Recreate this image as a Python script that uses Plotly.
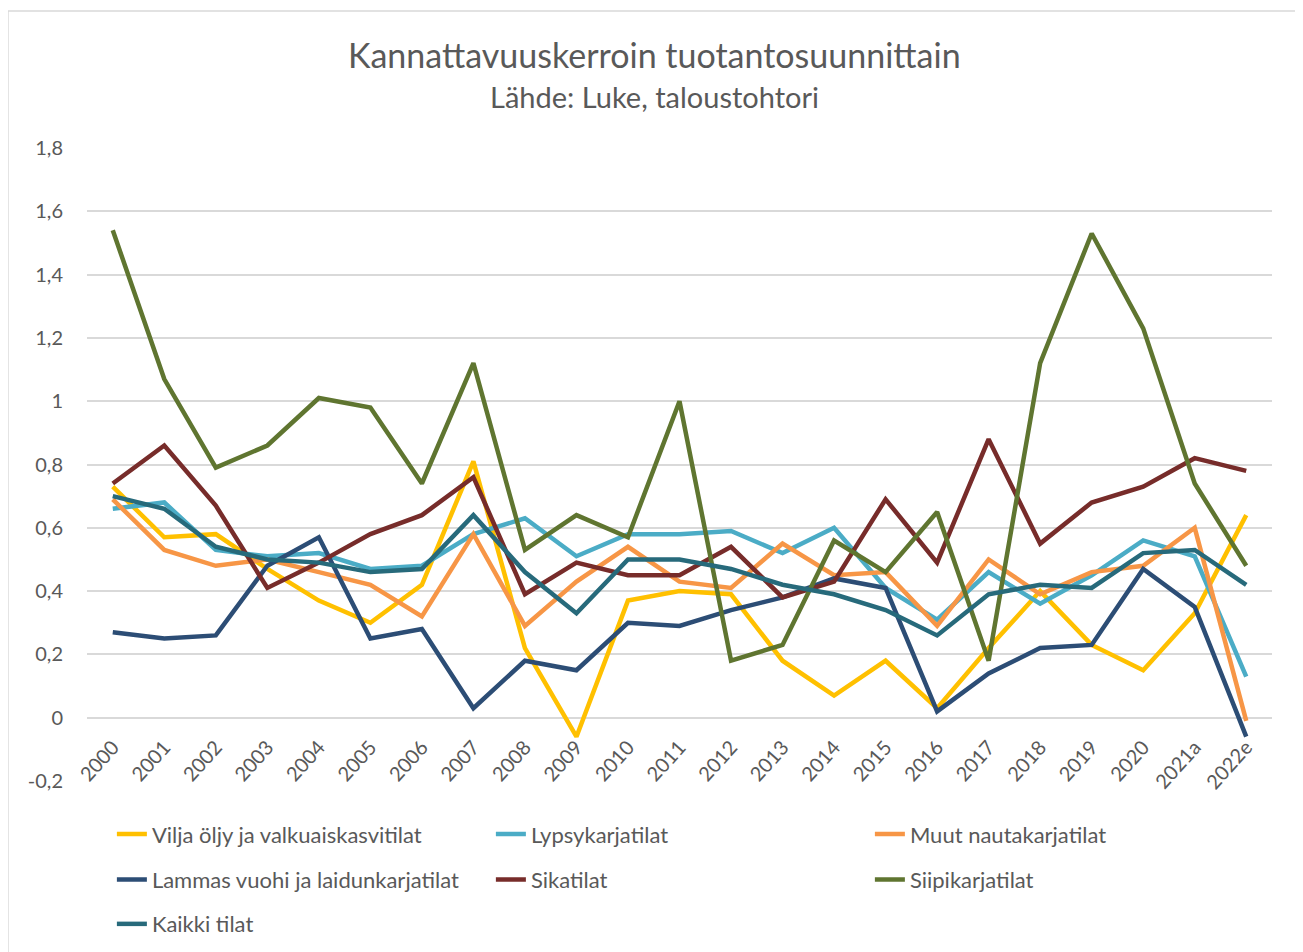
import plotly.graph_objects as go

# vuodet
vuodet = [str(v) for v in range(2000, 2021)] + ['2021a', '2022e']

vilja = [0.73, 0.57, 0.58, 0.47, 0.37, 0.30, 0.42, 0.81, 0.22, -0.06, 0.37, 0.40, 0.39,
         0.18, 0.07, 0.18, 0.03, 0.22, 0.40, 0.23, 0.15, 0.33, 0.64]
lypsy = [0.66, 0.68, 0.53, 0.51, 0.52, 0.47, 0.48, 0.58, 0.63, 0.51, 0.58, 0.58, 0.59,
         0.52, 0.60, 0.41, 0.31, 0.46, 0.36, 0.45, 0.56, 0.51, 0.13]
muut_nauta = [0.69, 0.53, 0.48, 0.50, 0.46, 0.42, 0.32, 0.58, 0.29, 0.43, 0.54, 0.43, 0.41,
              0.55, 0.45, 0.46, 0.29, 0.50, 0.39, 0.46, 0.48, 0.60, -0.01]
lammas = [0.27, 0.25, 0.26, 0.48, 0.57, 0.25, 0.28, 0.03, 0.18, 0.15, 0.30, 0.29, 0.34,
          0.38, 0.44, 0.41, 0.02, 0.14, 0.22, 0.23, 0.47, 0.35, -0.06]
sika = [0.74, 0.86, 0.67, 0.41, 0.49, 0.58, 0.64, 0.76, 0.39, 0.49, 0.45, 0.45, 0.54,
        0.38, 0.43, 0.69, 0.49, 0.88, 0.55, 0.68, 0.73, 0.82, 0.78]
siipi = [1.54, 1.07, 0.79, 0.86, 1.01, 0.98, 0.74, 1.12, 0.53, 0.64, 0.57, 1.00, 0.18,
         0.23, 0.56, 0.46, 0.65, 0.18, 1.12, 1.53, 1.23, 0.74, 0.48]
kaikki = [0.70, 0.66, 0.54, 0.50, 0.49, 0.46, 0.47, 0.64, 0.46, 0.33, 0.50, 0.50, 0.47,
          0.42, 0.39, 0.34, 0.26, 0.39, 0.42, 0.41, 0.52, 0.53, 0.42]

y_tikit = [-0.2, 0, 0.2, 0.4, 0.6, 0.8, 1, 1.2, 1.4, 1.6, 1.8]
y_tekstit = ['-0,2', '0', '0,2', '0,4', '0,6', '0,8', '1', '1,2', '1,4', '1,6', '1,8']

TEKSTI = '#595959'
RUUDUKKO = '#D9D9D9'
FONTTI = 'Lato, sans-serif'

sarjat = [
    ('Vilja öljy ja valkuaiskasvitilat', vilja, '#FFC000', 'legend'),
    ('Lypsykarjatilat', lypsy, '#4BACC6', 'legend'),
    ('Muut nautakarjatilat', muut_nauta, '#F79646', 'legend'),
    ('Lammas vuohi ja laidunkarjatilat', lammas, '#2C4D75', 'legend2'),
    ('Sikatilat', sika, '#772C2A', 'legend2'),
    ('Siipikarjatilat', siipi, '#5F7530', 'legend2'),
    ('Kaikki tilat', kaikki, '#276A7B', 'legend3'),
]

fig = go.Figure()
for nimi, arvot, vari, leg in sarjat:
    fig.add_trace(go.Scatter(x=vuodet, y=arvot, name=nimi, mode='lines',
                             line=dict(color=vari, width=4.5), legend=leg))

def selite(y):
    return dict(orientation='h', x=0.021, xanchor='left', y=y, yanchor='middle',
                entrywidth=334, entrywidthmode='pixels',
                font=dict(size=22, color=TEKSTI, family=FONTTI),
                bgcolor='rgba(0,0,0,0)', itemclick=False)

# sivun oletusmarginaali (8px) huomioitu marginaaleissa
fig.update_layout(
    width=1303, height=952,
    margin=dict(l=79, r=39, t=140, b=179),
    paper_bgcolor='white', plot_bgcolor='white',
    font=dict(family=FONTTI, color=TEKSTI),
    showlegend=True,
    legend=selite(-0.084),
    legend2=selite(-0.156),
    legend3=selite(-0.226),
    xaxis=dict(type='category', range=[-0.5, len(vuodet) - 0.5],
               showgrid=False, showline=False, zeroline=False,
               anchor='free', position=0.1, tickangle=-48, ticks='',
               ticklabelstandoff=13,
               tickfont=dict(size=20, color=TEKSTI, family=FONTTI)),
    yaxis=dict(range=[-0.2, 1.8], tickvals=y_tikit, ticktext=y_tekstit,
               showgrid=True, gridcolor=RUUDUKKO, gridwidth=1.5,
               zeroline=False, showline=False, ticks='', ticklabelstandoff=23,
               tickfont=dict(size=20, color=TEKSTI, family=FONTTI)),
    annotations=[
        dict(text='Kannattavuuskerroin tuotantosuunnittain', xref='paper', yref='paper',
             x=0.479, y=1.147, xanchor='center', yanchor='middle', showarrow=False,
             font=dict(size=34, color=TEKSTI, family=FONTTI)),
        dict(text='Lähde: Luke, taloustohtori', xref='paper', yref='paper',
             x=0.479, y=1.0806, xanchor='center', yanchor='middle', showarrow=False,
             font=dict(size=29, color=TEKSTI, family=FONTTI)),
    ],
    shapes=[dict(type='rect', xref='paper', yref='paper', x0=-0.0667, x1=1.0245,
                 y0=-0.29, y1=1.2164, line=dict(color=RUUDUKKO, width=1.5),
                 fillcolor='rgba(0,0,0,0)', layer='below')],
)

fig.write_html('out.html')
